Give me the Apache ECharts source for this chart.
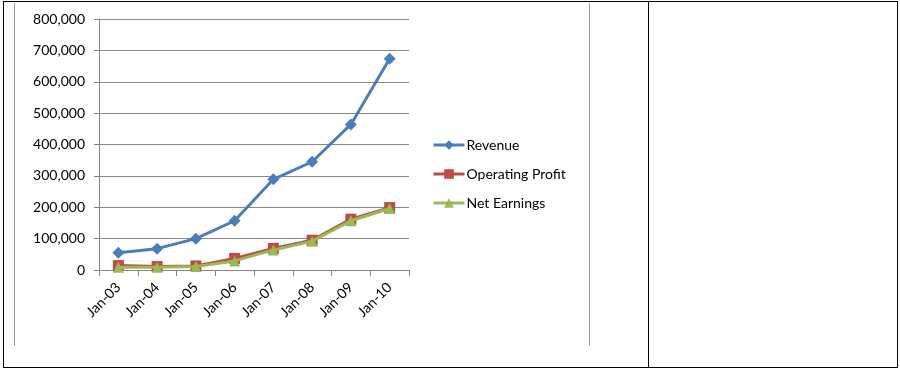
<!DOCTYPE html>
<html><head><meta charset="utf-8">
<script src="https://cdn.jsdelivr.net/npm/echarts@6/dist/echarts.min.js"></script>
<style>
html,body{margin:0;padding:0;background:#fff;}
#wrap{position:relative;width:900px;height:369px;overflow:hidden;}
.ln{position:absolute;}
#chart{position:absolute;left:0;top:0;width:900px;height:369px;}
</style></head><body>
<div id="wrap">
  <div class="ln" style="left:3px;top:1px;width:893px;height:365px;border:1.5px solid #000;"></div>
  <div class="ln" style="left:648px;top:1px;width:1px;height:367px;background:#000;"></div>
  <div class="ln" style="left:14px;top:3px;width:1px;height:343px;background:#a0a0a0;"></div>
  <div class="ln" style="left:589px;top:3px;width:1px;height:343px;background:#a0a0a0;"></div>
  <div id="chart"></div>
</div>
<script>
const categories = ['Jan-03','Jan-04','Jan-05','Jan-06','Jan-07','Jan-08','Jan-09','Jan-10'];
const revenue = [55000, 68000, 100000, 157000, 289000, 345000, 464000, 673000];
const operatingProfit = [14000, 11000, 13000, 37000, 69000, 95000, 162000, 199000];
const netEarnings = [9000, 9000, 11000, 29000, 64000, 92000, 157000, 196000];
const yTicks = [0, 100000, 200000, 300000, 400000, 500000, 600000, 700000, 800000];

const font = 'Lato, "Open Sans", sans-serif';
const chart = echarts.init(document.getElementById('chart'));
chart.setOption({
  animation: false,
  backgroundColor: 'transparent',
  grid: {left: 99, right: 491, top: 19, bottom: 99, containLabel: false},
  legend: {
    orient: 'vertical', left: 427, top: 133, itemGap: 15,
    itemWidth: 31, itemHeight: 12,
    lineStyle: {width: 3},
    textStyle: {fontFamily: font, fontSize: 14, color: '#000', padding: [0, 0, 0, -3]},
    data: ['Revenue', 'Operating Profit', 'Net Earnings']
  },
  xAxis: {
    type: 'category', data: categories, boundaryGap: true,
    axisLine: {lineStyle: {color: '#868686', width: 1}},
    axisTick: {show: true, length: 6, lineStyle: {color: '#868686'}},
    axisLabel: {rotate: 45, margin: 15, color: '#000', fontFamily: font, fontSize: 14, interval: 0}
  },
  yAxis: {
    type: 'value', min: yTicks[0], max: yTicks[yTicks.length - 1], interval: yTicks[1] - yTicks[0],
    axisLine: {show: true, lineStyle: {color: '#868686', width: 1}},
    axisTick: {show: true, length: 5, lineStyle: {color: '#868686'}},
    splitLine: {lineStyle: {color: '#868686', width: 1}},
    axisLabel: {margin: 14, color: '#000', fontFamily: font, fontSize: 14,
      formatter: v => v.toLocaleString('en-US')}
  },
  series: [
    {name: 'Revenue', type: 'line', data: revenue, symbol: 'diamond', symbolSize: 12,
      lineStyle: {color: '#4A7EBB', width: 3}, itemStyle: {color: '#4A7EBB'}, z: 3},
    {name: 'Operating Profit', type: 'line', data: operatingProfit, symbol: 'rect', symbolSize: 11,
      lineStyle: {color: '#BE4B48', width: 3}, itemStyle: {color: '#BE4B48'}, z: 2},
    {name: 'Net Earnings', type: 'line', data: netEarnings, symbol: 'triangle', symbolSize: 11,
      lineStyle: {color: '#98B954', width: 3}, itemStyle: {color: '#98B954'}, z: 4}
  ]
});
</script>
</body></html>
